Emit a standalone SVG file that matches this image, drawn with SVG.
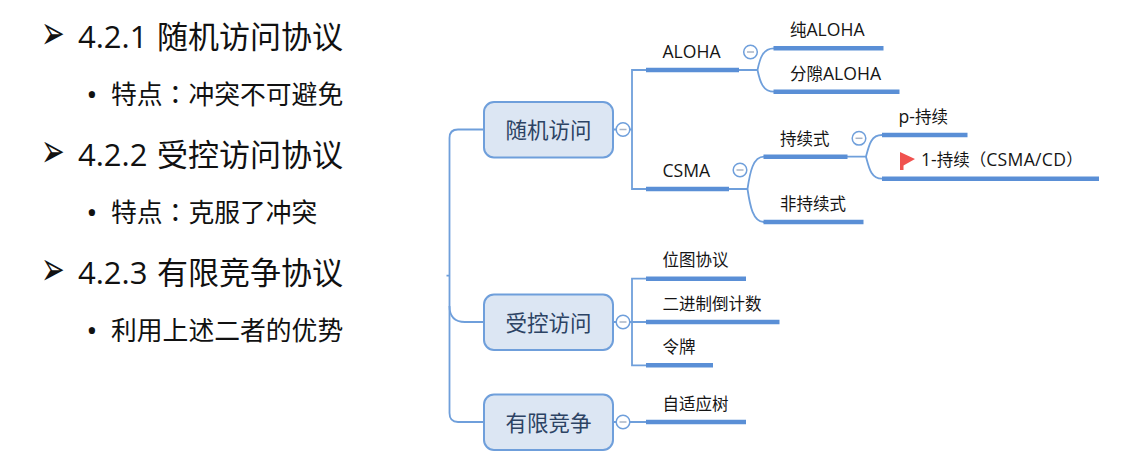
<svg xmlns="http://www.w3.org/2000/svg" width="1130" height="458" viewBox="0 0 1130 458">
  <style>
    text { font-family: "Open Sans", "Noto Sans CJK SC", sans-serif; }
    .head { font-size: 31px; fill: #111; word-spacing: 1.5px; }
    .sub { font-size: 25.8px; fill: #111; }
    .colon { font-family: "Noto Sans CJK TC", sans-serif; }
    .mark { font-family: "DejaVu Sans", sans-serif; font-size: 27px; fill: #111; }
    .dot { font-size: 30px; fill: #111; text-anchor: middle; }
    .topic { fill: #dce6f3; stroke: #6f9fdb; stroke-width: 2; }
    .topic-label { font-size: 21.5px; fill: #2c4364; text-anchor: middle; }
    .label { font-size: 16.5px; fill: #151515; }
    .lat { font-size: 17.6px; }
    .thin { fill: none; stroke: #6f9fdb; stroke-width: 1.8; }
    .bar { stroke: #5a8fd6; stroke-width: 4.5; }
    .toggle circle { fill: #fff; stroke: #6f9fdb; stroke-width: 1.5; }
    .toggle line { stroke: #a9b4c6; stroke-width: 1.5; }
  </style>
  <defs>
    <g id="minus" class="toggle">
      <circle r="6.8"/>
      <line x1="-3.5" x2="3.5"/>
    </g>
  </defs>
  <rect width="1130" height="458" fill="#fff"/>

  <g id="outline">
    <text class="mark" transform="translate(41 49) scale(1.05 1.75)">➢</text>
    <text class="head" x="78" y="48">4.2.1 随机访问协议</text>
    <text class="dot" x="92" y="105">•</text>
    <text class="sub" x="111" y="104">特点<tspan class="colon">：</tspan>冲突不可避免</text>
    <text class="mark" transform="translate(41 167) scale(1.05 1.75)">➢</text>
    <text class="head" x="78" y="166">4.2.2 受控访问协议</text>
    <text class="dot" x="92" y="223">•</text>
    <text class="sub" x="111" y="222">特点<tspan class="colon">：</tspan>克服了冲突</text>
    <text class="mark" transform="translate(41 285) scale(1.05 1.75)">➢</text>
    <text class="head" x="78" y="284">4.2.3 有限竞争协议</text>
    <text class="dot" x="92" y="341">•</text>
    <text class="sub" x="111" y="340">利用上述二者的优势</text>
  </g>

  <g id="connectors">
    <path class="thin" d="M484 129.5H458Q449.5 129.5 449.5 138V413Q449.5 422 458 422H484"/>
    <path class="thin" d="M446.5 275.6H449.5M449.5 306Q449.5 322 465 322H484"/>
    <path class="thin" d="M613 129.5H632M646 70H632V189H646"/>
    <path class="thin" d="M613 322H646M646 278.7H632V365.3H646"/>
    <path class="thin" d="M613 422H646"/>
    <path class="thin" d="M739 70H757.5M774 48.3C763 48.3 760 58 757.5 70C760 82 763 91.7 774 91.7"/>
    <path class="thin" d="M729 189H747.5M764 156.7C753 156.7 750 172 747.5 189C750 206 753 222 764 222"/>
    <path class="thin" d="M847 156.7H866M882 135C871 135 869 145 866 156.7C869 168 871 178.7 882 178.7"/>
    <g>
      <line class="bar" x1="646" y1="70" x2="739" y2="70"/>
      <line class="bar" x1="646" y1="189" x2="729" y2="189"/>
      <line class="bar" x1="773.5" y1="48.3" x2="883.5" y2="48.3"/>
      <line class="bar" x1="773.5" y1="91.7" x2="899.5" y2="91.7"/>
      <line class="bar" x1="763.5" y1="156.7" x2="847.5" y2="156.7"/>
      <line class="bar" x1="763.5" y1="222" x2="863.5" y2="222"/>
      <line class="bar" x1="882" y1="135" x2="967.5" y2="135"/>
      <line class="bar" x1="882" y1="178.7" x2="1099" y2="178.7"/>
      <line class="bar" x1="646" y1="278.7" x2="746" y2="278.7"/>
      <line class="bar" x1="646" y1="322" x2="779.5" y2="322"/>
      <line class="bar" x1="646" y1="365.3" x2="713" y2="365.3"/>
      <line class="bar" x1="646" y1="422" x2="746" y2="422"/>
    </g>
  </g>

  <g id="random-access">
    <rect class="topic" x="484" y="102" width="129" height="55.5" rx="10"/>
    <text class="topic-label" x="548.5" y="138">随机访问</text>
    <use href="#minus" x="623" y="129.5"/>
  </g>
  <g id="controlled-access">
    <rect class="topic" x="484" y="294.5" width="129" height="55.5" rx="10"/>
    <text class="topic-label" x="548.5" y="330.5">受控访问</text>
    <use href="#minus" x="623" y="322"/>
  </g>
  <g id="limited-contention">
    <rect class="topic" x="484" y="394.5" width="129" height="55.5" rx="10"/>
    <text class="topic-label" x="548.5" y="430.5">有限竞争</text>
    <use href="#minus" x="623" y="422"/>
  </g>

  <g id="aloha">
    <text class="label lat" x="662.5" y="58">ALOHA</text>
    <use href="#minus" x="750.5" y="52"/>
  </g>
  <g id="csma">
    <text class="label lat" x="662.5" y="176.5">CSMA</text>
    <use href="#minus" x="740" y="170"/>
  </g>
  <g id="pure-aloha"><text class="label" x="790" y="36">纯<tspan class="lat">ALOHA</tspan></text></g>
  <g id="slotted-aloha"><text class="label" x="790" y="79.5">分隙<tspan class="lat">ALOHA</tspan></text></g>
  <g id="persistent">
    <text class="label" x="780" y="144.5">持续式</text>
    <use href="#minus" x="859" y="138.3"/>
  </g>
  <g id="non-persistent"><text class="label" x="780" y="210">非持续式</text></g>
  <g id="p-persistent"><text class="label" x="898.5" y="123"><tspan class="lat">p-</tspan>持续</text></g>
  <g id="one-persistent">
    <path d="M900 152V170H903.5V165.5L915 159Z" fill="#f0524f"/>
    <text class="label" x="921" y="166"><tspan class="lat">1-</tspan>持续（<tspan class="lat" letter-spacing="0.3">CSMA/CD</tspan>）</text>
  </g>
  <g id="bitmap"><text class="label" x="662.5" y="266">位图协议</text></g>
  <g id="binary-countdown"><text class="label" x="662.5" y="310">二进制倒计数</text></g>
  <g id="token"><text class="label" x="662.5" y="353">令牌</text></g>
  <g id="adaptive-tree"><text class="label" x="662.5" y="410">自适应树</text></g>
</svg>
